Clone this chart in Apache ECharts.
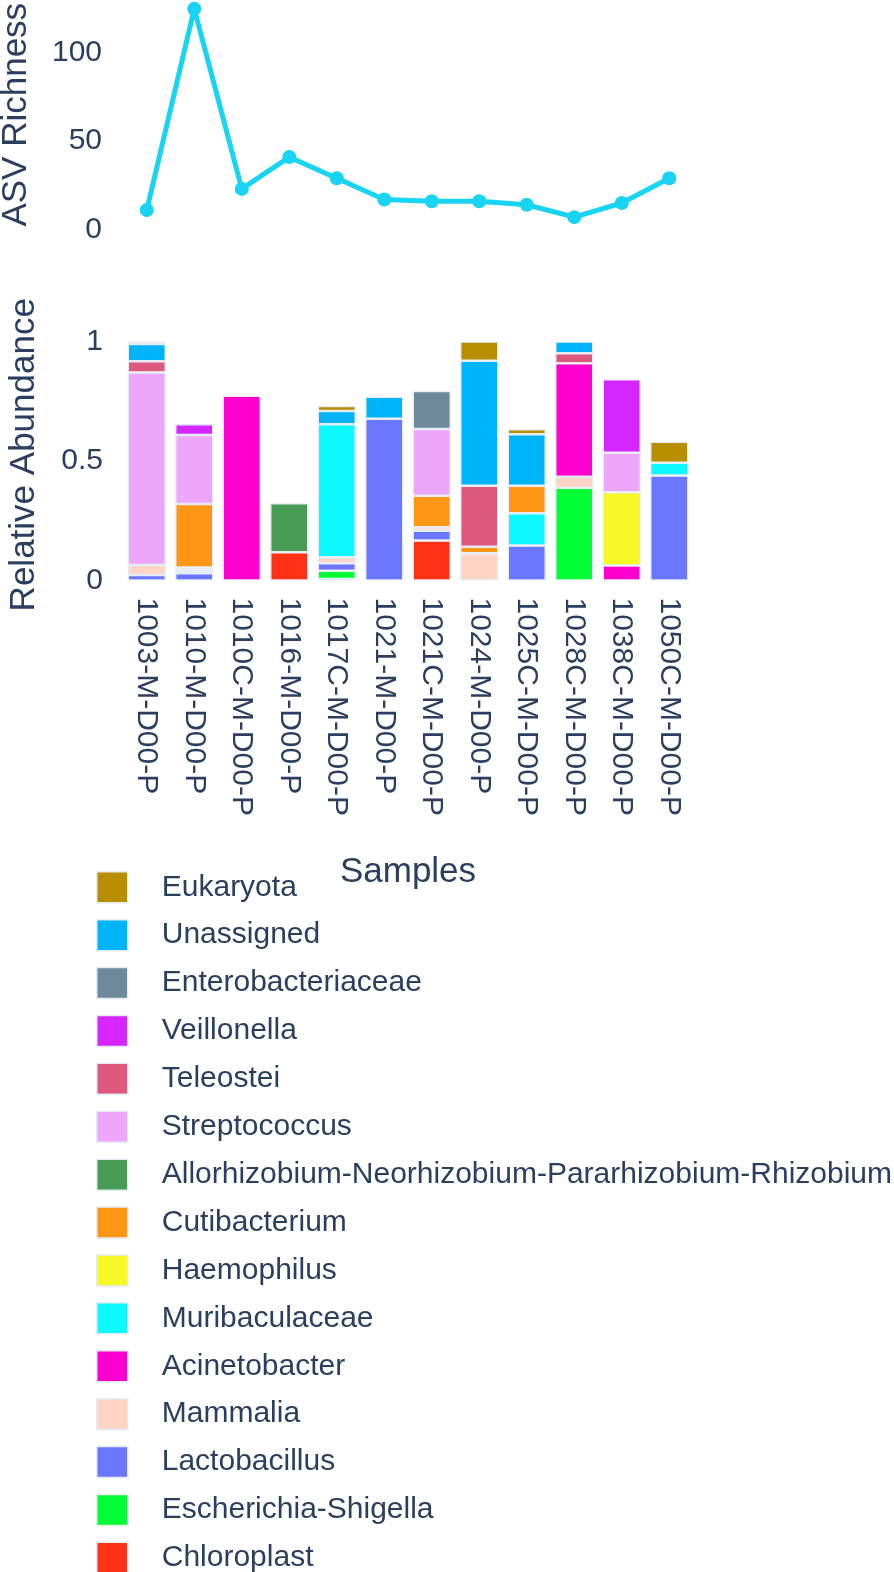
<!DOCTYPE html>
<html>
<head>
<meta charset="utf-8">
<script src="https://cdn.jsdelivr.net/npm/echarts@6/dist/echarts.min.js"></script>
<style>
html,body{margin:0;padding:0;background:#fff;}
#c{width:894px;height:1572px;}
</style>
</head>
<body>
<div id="c"></div>
<script>
const samples = ["1003-M-D00-P","1010-M-D00-P","1010C-M-D00-P","1016-M-D00-P","1017C-M-D00-P","1021-M-D00-P","1021C-M-D00-P","1024-M-D00-P","1025C-M-D00-P","1028C-M-D00-P","1038C-M-D00-P","1050C-M-D00-P"];
const richness = [11,125,23,41,29,17,16,16,14,7,15,29];

// stacked from bottom to top
const Chloroplast        = [0,0,0,0.118,0.006,0,0.167,0,0,0,0,0];
const EscherichiaShigella= [0,0,0,0,0.035,0,0,0,0,0.388,0,0];
const Lactobacillus      = [0.023,0.030,0,0,0.031,0.677,0.041,0,0.146,0,0,0.439];
const Mammalia           = [0.042,0.008,0,0,0.025,0,0.015,0.114,0,0.046,0,0];
const Acinetobacter      = [0,0,0.773,0,0,0,0,0,0,0.475,0.063,0];
const Muribaculaceae     = [0,0.008,0,0,0.557,0,0,0,0.135,0,0,0.054];
const Haemophilus        = [0,0.008,0,0,0,0,0,0,0,0,0.306,0];
const Cutibacterium      = [0,0.266,0,0,0,0,0.132,0.027,0.116,0,0,0];
const Allorhizobium      = [0,0,0,0.205,0,0,0,0,0,0,0,0];
const Streptococcus      = [0.806,0.289,0,0,0,0,0.279,0,0,0,0.166,0];
const Teleostei          = [0.047,0,0,0,0,0,0,0.256,0,0.042,0,0];
const Veillonella        = [0,0.045,0,0,0,0,0,0,0,0,0.307,0];
const Enterobacteriaceae = [0,0,0,0,0,0,0.159,0,0,0,0,0];
const Unassigned         = [0.072,0,0,0,0.055,0.092,0,0.523,0.215,0.049,0,0];
const Eukaryota          = [0.010,0,0,0,0.021,0,0,0.080,0.021,0,0,0.088];

const taxa = [
  ["Chloroplast", Chloroplast, "#FD3216"],
  ["Escherichia-Shigella", EscherichiaShigella, "#00FE35"],
  ["Lactobacillus", Lactobacillus, "#6A76FC"],
  ["Mammalia", Mammalia, "#FED4C4"],
  ["Acinetobacter", Acinetobacter, "#FE00CE"],
  ["Muribaculaceae", Muribaculaceae, "#0DF9FF"],
  ["Haemophilus", Haemophilus, "#F6F926"],
  ["Cutibacterium", Cutibacterium, "#FF9616"],
  ["Allorhizobium-Neorhizobium-Pararhizobium-Rhizobium", Allorhizobium, "#479B55"],
  ["Streptococcus", Streptococcus, "#EEA6FB"],
  ["Teleostei", Teleostei, "#DC587D"],
  ["Veillonella", Veillonella, "#D626FF"],
  ["Enterobacteriaceae", Enterobacteriaceae, "#6E899C"],
  ["Unassigned", Unassigned, "#00B5F7"],
  ["Eukaryota", Eukaryota, "#B68E00"]
];

const FONT = "Liberation Sans, Arial, sans-serif";
const TXT = "#2a3f5f";

const chart = echarts.init(document.getElementById('c'), null, {renderer:'canvas'});

const barSeries = taxa.map(t => ({
  name: t[0],
  type: 'bar',
  stack: 'ab',
  xAxisIndex: 1,
  yAxisIndex: 1,
  barCategoryGap: '20%',
  data: t[1].map(v => v === 0 ? null : v),
  itemStyle: {color: t[2], borderColor: '#E5ECF6', borderWidth: 1.25},
  emphasis: {disabled: true}
}));

chart.setOption({
  animation: false,
  backgroundColor: '#ffffff',
  textStyle: {fontFamily: FONT, color: TXT},
  grid: [
    {left: 123, width: 570, top: 0, height: 229.5, outerBoundsMode: 'none', containLabel: false},
    {left: 123, width: 570, top: 329, height: 251.5, outerBoundsMode: 'none', containLabel: false}
  ],
  xAxis: [
    {type:'category', gridIndex:0, data: samples, boundaryGap:true,
     axisLine:{show:false}, axisTick:{show:false}, axisLabel:{show:false}, splitLine:{show:false}},
    {type:'category', gridIndex:1, data: samples, boundaryGap:true,
     axisLine:{show:false}, axisTick:{show:false}, splitLine:{show:false},
     axisLabel:{rotate:-90, fontSize:30, color:TXT, fontFamily:FONT, margin:17, interval:0},
     name:'Samples', nameLocation:'middle', nameGap:274,
     nameTextStyle:{fontSize:35, color:TXT, fontFamily:FONT}}
  ],
  yAxis: [
    {type:'value', gridIndex:0, min:0, max:130, interval:50,
     axisLine:{show:false}, axisTick:{show:false}, splitLine:{show:false},
     axisLabel:{fontSize:30, color:TXT, fontFamily:FONT, margin:21, showMaxLabel:false},
     name:'ASV Richness', nameLocation:'middle', nameGap:89,
     nameTextStyle:{fontSize:35, color:TXT, fontFamily:FONT}},
    {type:'value', gridIndex:1, min:0, max:1.0526, interval:0.5,
     axisLine:{show:false}, axisTick:{show:false}, splitLine:{show:false},
     axisLabel:{fontSize:30, color:TXT, fontFamily:FONT, margin:20, showMaxLabel:false},
     name:'Relative Abundance', nameLocation:'middle', nameGap:81,
     nameTextStyle:{fontSize:35, color:TXT, fontFamily:FONT}}
  ],
  legend: {
    orient:'vertical', left:91, top:866, height: 705,
    itemWidth:31, itemHeight:31, itemGap:15.4,
    icon:'rect',
    data: taxa.slice().reverse().map(t => t[0]),
    itemStyle:{borderColor:'#E5ECF6', borderWidth:1.5},
    textStyle:{fontSize:30, color:TXT, fontFamily:FONT, lineHeight:31, padding:[0,0,0,29]}
  },
  series: [
    {type:'line', xAxisIndex:0, yAxisIndex:0, data: richness,
     symbol:'circle', symbolSize:14, showSymbol:true,
     lineStyle:{color:'#19D3F3', width:5}, itemStyle:{color:'#19D3F3'},
     emphasis:{disabled:true}, clip:false}
  ].concat(barSeries)
});
</script>
</body>
</html>
